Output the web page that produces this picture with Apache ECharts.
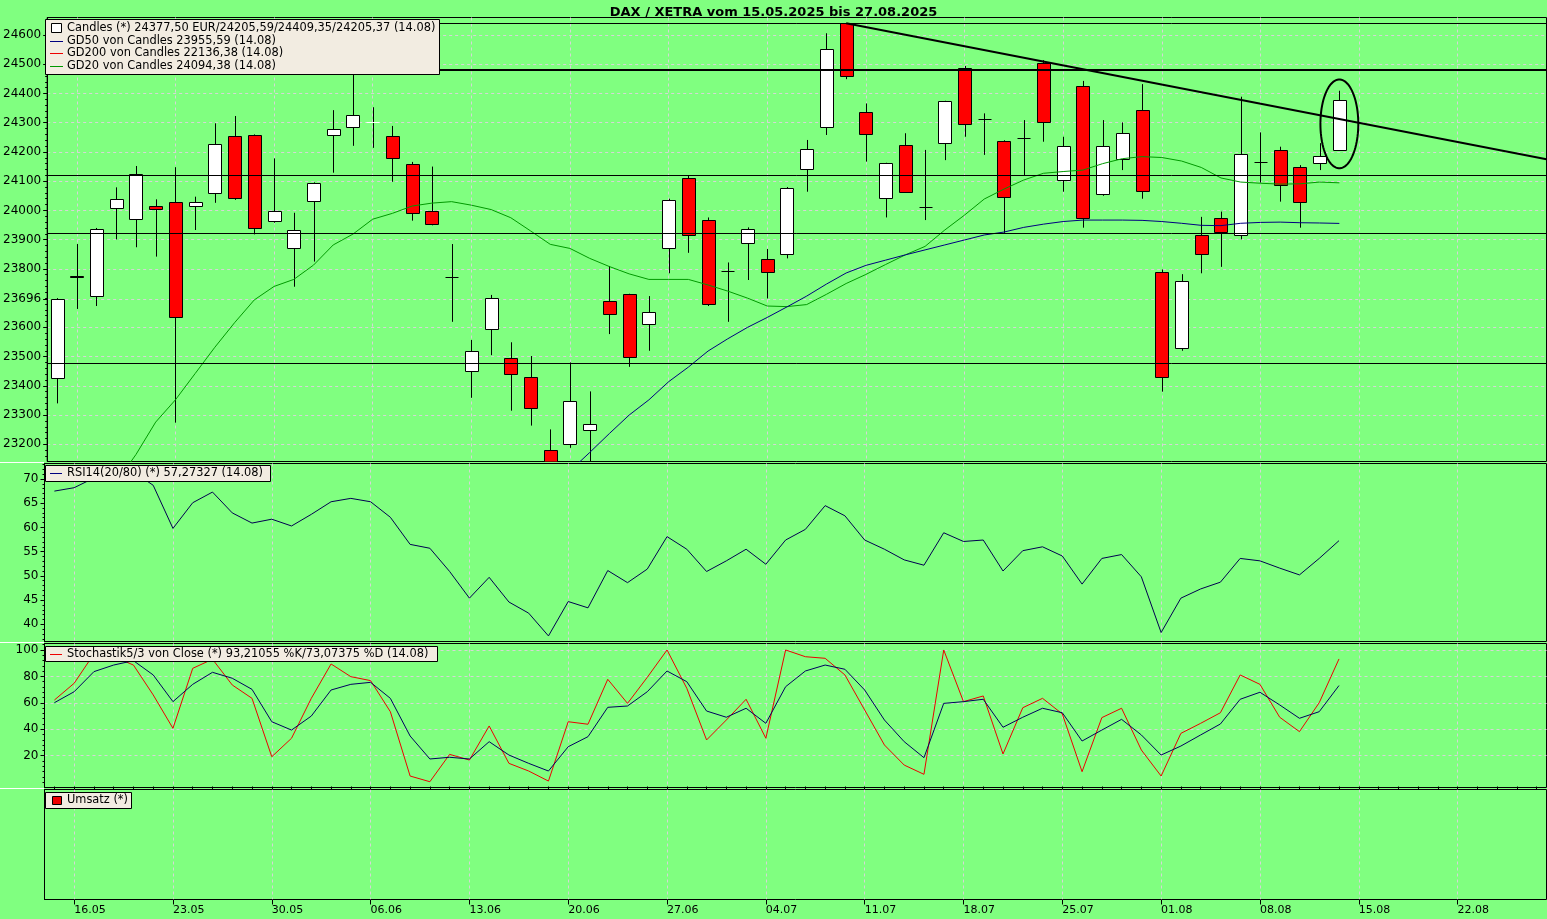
<!DOCTYPE html>
<html><head><meta charset="utf-8">
<script src="https://cdn.jsdelivr.net/npm/echarts@6/dist/echarts.min.js"></script>
<style>html,body{margin:0;padding:0;background:#80ff80;}#c{width:1547px;height:919px;}</style>
</head><body><div id="c"></div>
<script>
// ---------- DATA ----------
const dates = ['15.05','16.05','19.05','20.05','21.05','22.05','23.05','26.05','27.05','28.05','29.05','30.05',
'02.06','03.06','04.06','05.06','06.06','09.06','10.06','11.06','12.06','13.06','16.06','17.06','18.06','19.06','20.06','23.06','24.06','25.06','26.06','27.06','30.06',
'01.07','02.07','03.07','04.07','07.07','08.07','09.07','10.07','11.07','14.07','15.07','16.07','17.07','18.07','21.07','22.07','23.07','24.07','25.07','28.07','29.07','30.07','31.07',
'01.08','04.08','05.08','06.08','07.08','08.08','11.08','12.08','13.08','14.08',
'15.08','18.08','19.08','20.08','21.08','22.08','25.08','26.08','27.08','28.08'];
const tickLabels = ['16.05','23.05','30.05','06.06','13.06','20.06','27.06','04.07','11.07','18.07','25.07','01.08','08.08','15.08','22.08'];

const open  = [23426,23777,23708,24007,23970,24016,24028,24014,24058,24253,24257,23965,23870,24033,24257,24284,24303,24253,24158,23997,23771,23452,23593,23494,23429,23180,23200,23248,23690,23713,23612,23870,24110,23967,23793,23887,23833,23850,24141,24284,24640,24336,24041,24223,24013,24232,24486,24314,24236,24247,24505,24103,24426,24055,24175,24343,23788,23528,23916,23973,23916,24167,24207,24147,24161,24205.59];
const close = [23696,23771,23935,24038,24123,24004,23634,24028,24226,24041,23939,23998,23933,24094,24278,24325,24305,24178,23990,23952,23771,23519,23699,23439,23323,23057,23349,23268,23645,23500,23651,24036,23916,23680,23793,23935,23790,24076,24209,24551,24461,24260,24161,24064,24013,24373,24295,24314,24045,24247,24301,24220,23973,24220,24264,24067,23429,23759,23850,23927,24192,24167,24087,24028,24186,24377.50];
const low   = [23340,23663,23673,23901,23874,23842,23274,23933,24026,24036,23918,23958,23739,23825,24129,24221,24214,24098,23965,23949,23619,23359,23505,23315,23264,23020,23188,23090,23577,23465,23520,23785,23855,23673,23619,23762,23699,23836,24064,24258,24449,24167,23976,24061,23967,24172,24252,24190,23923,24121,24235,24064,23941,24050,24138,24040,23380,23520,23785,23807,23901,24095,24030,23941,24138,24205.37];
const high  = [23700,23885,23940,24079,24152,24038,24148,24047,24298,24323,24260,24178,23992,24096,24343,24480,24353,24289,24166,24150,23885,23557,23711,23549,23502,23251,23480,23381,23810,23715,23707,24040,24119,23976,23822,23942,23868,24080,24241,24606,24641,24366,24163,24264,24207,24375,24494,24332,24240,24309,24514,24252,24443,24309,24301,24432,23798,23782,23978,23996,24389,24267,24218,24155,24230,24409.35];

const gd20 = [22900,22960,23010,23070,23165,23276,23352,23442,23532,23616,23694,23740,23764,23813,23882,23919,23970,23990,24015,24025,24030,24018,24003,23975,23930,23884,23870,23836,23808,23783,23764,23764,23764,23745,23724,23700,23673,23671,23678,23713,23750,23781,23815,23848,23877,23933,23984,24039,24073,24104,24127,24133,24138,24160,24177,24184,24181,24169,24147,24111,24097,24093,24090,24091,24097,24094.38];
const gd50 = [null,null,null,null,null,null,null,null,null,null,null,null,null,null,null,null,null,null,null,null,null,null,null,null,null,23046,23109,23172,23237,23300,23352,23414,23464,23519,23561,23600,23634,23670,23707,23748,23786,23812,23830,23848,23865,23882,23899,23916,23926,23942,23953,23962,23967,23967,23967,23966,23962,23956,23949,23948,23956,23959,23960,23958,23957,23955.59];

const rsi = [67.5,68.2,70.2,72.0,71.5,68.7,59.8,65.1,67.3,63.0,60.9,61.7,60.3,62.7,65.3,66.0,65.3,62.1,56.5,55.7,50.9,45.4,49.7,44.6,42.3,37.6,44.7,43.4,51.1,48.6,51.4,58.1,55.5,50.9,53.1,55.5,52.4,57.4,59.6,64.5,62.4,57.4,55.5,53.3,52.2,58.9,57.1,57.4,51.0,55.2,56.0,54.1,48.3,53.6,54.4,49.8,38.3,45.4,47.3,48.7,53.6,53.1,51.6,50.2,53.6,57.27];
const stochK = [62.1,74.8,97,95,88.6,66,40.7,86.1,93,73.5,63.4,19.2,33.2,63.4,89.4,79.8,76.8,53.3,4.6,0.3,21.0,16.7,42.5,14.2,8.4,0.8,45.7,43.8,77.8,59.6,79.3,100,71.0,31.9,47.0,62.7,33.2,100,94.9,93.7,81.1,54.6,28.1,12.9,5.9,100,60.9,65.2,21.3,56.3,63.4,51.6,7.9,48.8,55.9,24.3,4.6,36.9,44.5,52.5,81.1,74.0,49.1,38.2,60.1,93.21];
const stochD = [60.1,68.4,83.6,88.6,91.9,81.1,60.9,74.0,83.1,78.6,70.2,45.7,39.4,50.0,69.7,74.0,75.5,63.4,34.9,17.5,18.8,17.5,30.6,20.5,14.2,8.4,26.8,34.4,56.6,57.6,68.4,84.1,76.0,53.8,49.1,55.9,44.5,72.2,84.1,88.6,85.4,69.7,47.0,30.6,18.5,59.6,60.9,62.7,41.5,49.1,55.9,52.5,31.1,39.4,47.5,35.7,20.5,27.3,35.7,44.0,62.7,68.0,58.4,48.3,53.3,73.07];

const priceTicks = [23200,23300,23400,23500,23600,23696,23800,23900,24000,24100,24200,24300,24400,24500,24600];
const rsiTicks = [40,45,50,55,60,65,70];
const stochTicks = [20,40,60,80,100];

const hLevels = [24640,24480,24121,23922,23477];
const trendStart = [40,24640];
const trendEnd = [75.5,24175];
const ellipseMark = [65,24296,0.96,152];

const titleText = 'DAX / XETRA vom 15.05.2025 bis 27.08.2025';
const legendMain = ['Candles (*) 24377,50 EUR/24205,59/24409,35/24205,37 (14.08)','GD50 von Candles 23955,59 (14.08)','GD200 von Candles 22136,38 (14.08)','GD20 von Candles 24094,38 (14.08)'];
const legendRsi = 'RSI14(20/80) (*) 57,27327 (14.08)';
const legendStoch = 'Stochastik5/3 von Close (*) 93,21055 %K/73,07375 %D (14.08)';
const legendVol = 'Umsatz (*)';

// ---------- CHART ----------
const FONT = 'DejaVu Sans';
const fridayIdx = tickLabels.map(t => dates.indexOf(t));
const allIdx = dates.map((d,i)=>i);
const range = (a,b,s)=>{const r=[];for(let v=a;v<=b+1e-9;v+=s)r.push(+v.toFixed(4));return r;};
const dash = {color:'#d6d6d6', type:[3,3], width:1};

const grids = [
  {left:44.5, width:1502, top:17.5, height:444},
  {left:44.5, width:1502, top:463.5, height:178},
  {left:44.5, width:1502, top:643.5, height:144},
  {left:44.5, width:1502, top:789.5, height:110}
].map(g => Object.assign(g, {show:true, borderColor:'#000', borderWidth:1, backgroundColor:'transparent', containLabel:false}));

function xAx(gi, bottom){
  return {type:'value', gridIndex:gi, min:-0.5, max:75.5,
    axisLine:{show:false, onZero:false},
    axisTick:{show:bottom, customValues:fridayIdx, length:5, lineStyle:{color:'#000'}},
    axisLabel:{show:bottom, customValues:fridayIdx, formatter:v=>dates[Math.round(v)], align:'left', margin:5, color:'#000', fontSize:11, fontFamily:FONT},
    splitLine:{show:true, lineStyle:dash}};
}
const xAxes = [xAx(0,false), xAx(1,false), xAx(2,false), xAx(3,true),
  {type:'value', gridIndex:3, min:-0.5, max:75.5, axisLine:{show:false, onZero:false}, axisTick:{show:true, customValues:allIdx, length:3, lineStyle:{color:'#000'}}, axisLabel:{show:false}, splitLine:{show:false}}];

function yAx(gi, min, max, ticks, split){
  return {type:'value', gridIndex:gi, min:min, max:max, position:'left',
    axisLine:{show:true, onZero:false, lineStyle:{color:'#000'}},
    axisTick:{show:!!ticks, customValues:ticks||[], length:4, lineStyle:{color:'#000'}},
    axisLabel:{show:!!ticks, customValues:ticks||[], formatter:v=>String(v), margin:6, color:'#000', fontSize:12, fontFamily:FONT},
    splitLine:{show:split, lineStyle:dash}};
}
function yMinor(gi, min, max, vals){
  return {type:'value', gridIndex:gi, min:min, max:max, position:'left', axisLine:{show:false, onZero:false},
    axisTick:{show:true, customValues:vals, length:2, lineStyle:{color:'#000'}}, axisLabel:{show:false}, splitLine:{show:false}};
}
const pMin = 23141.2, pMax = 24659.9;
const rMin = 36.45, rMax = 73.2;
const sMin = -4.07, sMax = 104.9;
const yAxes = [
  yAx(0,pMin,pMax,priceTicks,true),
  yAx(1,rMin,rMax,rsiTicks,false),
  yAx(2,sMin,sMax,stochTicks,true),
  yAx(3,0,1,null,false),
  yMinor(0,pMin,pMax,range(23160,24640,20)),
  yMinor(1,rMin,rMax,range(37,73,1)),
  yMinor(2,sMin,sMax,range(0,104,4))
];

const candleData = open.map((o,i)=>[i,o,close[i],low[i],high[i]]);

const candleSeries = {
  type:'custom', xAxisIndex:0, yAxisIndex:0, clip:true, z:3,
  data:candleData, encode:{x:0, y:[1,2,3,4]},
  renderItem(params, api){
    const i=api.value(0), o=api.value(1), c=api.value(2), l=api.value(3), h=api.value(4);
    const pO=api.coord([i,o]), pC=api.coord([i,c]), pL=api.coord([i,l]), pH=api.coord([i,h]);
    const w=Math.round(api.size([1,0])[0]*0.64);
    const cx=Math.round(pO[0])+0.5;
    const left=Math.round(pO[0]-w/2)+0.5;
    const ch=[{type:'line', shape:{x1:cx,y1:pH[1],x2:cx,y2:pL[1]}, style:{stroke:'#000', lineWidth:1}}];
    const top=Math.min(pO[1],pC[1]), bot=Math.max(pO[1],pC[1]);
    if (c===o){
      const y=Math.round(pO[1])+0.5;
      ch.push({type:'line', shape:{x1:left,y1:y,x2:left+w,y2:y}, style:{stroke:'#000', lineWidth:1}});
    } else if (bot-top<1){
      const y=Math.round(pO[1])+0.5;
      ch.push({type:'line', shape:{x1:left,y1:y,x2:left+w,y2:y}, style:{stroke:c>o?'#fff':'#f00', lineWidth:1}});
    } else {
      const t=Math.round(top)+0.5, b=Math.round(bot)+0.5;
      ch.push({type:'rect', shape:{x:left,y:t,width:w,height:Math.max(1,b-t)}, style:{fill:c>o?'#ffffff':'#ff0000', stroke:'#000', lineWidth:1}});
    }
    return {type:'group', children:ch};
  }
};

const ellipseSeries = {
  type:'custom', xAxisIndex:0, yAxisIndex:0, clip:true, z:6, silent:true,
  data:[ellipseMark], encode:{x:0,y:1},
  renderItem(params, api){
    const c=api.coord([api.value(0),api.value(1)]);
    const rx=api.size([api.value(2),0])[0];
    const ry=api.size([0,api.value(3)])[1];
    const pts=[];
    for(let k=0;k<90;k++){const a=k/90*Math.PI*2; pts.push([c[0]+rx*Math.cos(a), c[1]+ry*Math.sin(a)]);}
    return {type:'polygon', shape:{points:pts}, style:{fill:'none', stroke:'#000', lineWidth:2}};
  }
};

const lineS = (data, xi, yi, color, extra) => Object.assign({
  type:'line', xAxisIndex:xi, yAxisIndex:yi, data:data.map((v,i)=>[i,v]), symbol:'none', showSymbol:false,
  lineStyle:{color:color, width:1}, itemStyle:{color:color}, clip:true, animation:false, silent:true, z:4
}, extra||{});

const mlData = hLevels.map((v,k)=>({yAxis:v, lineStyle:{width:k===1?2:1}}));
mlData.push([{coord:trendStart},{coord:trendEnd, lineStyle:{width:2}}]);

const option = {
  animation:false,
  backgroundColor:'#80ff80',
  title:{text:titleText, left:'center', top:1, textStyle:{fontSize:13, fontWeight:'bold', fontFamily:FONT, color:'#000'}},
  grid:grids, xAxis:xAxes, yAxis:yAxes,
  series:[
    candleSeries,
    lineS(gd20,0,0,'#009900',{markLine:{silent:true, symbol:['none','none'], label:{show:false}, animation:false,
      lineStyle:{color:'#000', type:'solid', width:1}, data:mlData}}),
    lineS(gd50,0,0,'#000080'),
    ellipseSeries,
    lineS(rsi,1,1,'#000050'),
    lineS(stochK,2,2,'#ee0000'),
    lineS(stochD,2,2,'#000060')
  ],
  graphic:[
    {type:'line', shape:{x1:0,y1:462.5,x2:44,y2:462.5}, style:{stroke:'#fff', lineWidth:1}, z:50},
    {type:'line', shape:{x1:0,y1:642.5,x2:44,y2:642.5}, style:{stroke:'#fff', lineWidth:1}, z:50},
    {type:'line', shape:{x1:0,y1:788.5,x2:44,y2:788.5}, style:{stroke:'#fff', lineWidth:1}, z:50},
    // main legend
    {type:'rect', shape:{x:45.5,y:19.5,width:394,height:55}, style:{fill:'#f2ece1', stroke:'#000', lineWidth:1}, z:100},
    {type:'rect', shape:{x:51.5,y:23.5,width:10,height:9}, style:{fill:'#fff', stroke:'#000', lineWidth:1}, z:101},
    {type:'line', shape:{x1:50,y1:41.5,x2:63,y2:41.5}, style:{stroke:'#000080', lineWidth:1}, z:101},
    {type:'line', shape:{x1:50,y1:53.5,x2:63,y2:53.5}, style:{stroke:'#ee0000', lineWidth:1}, z:101},
    {type:'line', shape:{x1:50,y1:66.5,x2:63,y2:66.5}, style:{stroke:'#009900', lineWidth:1}, z:101},
    ...legendMain.map((t,k)=>({type:'text', x:67, y:[28.5,41.5,53.5,66.5][k], style:{text:t, fill:'#000', font:'11.4px "'+FONT+'"', textVerticalAlign:'middle'}, z:101})),
    // RSI legend
    {type:'rect', shape:{x:45.5,y:465.5,width:225,height:16}, style:{fill:'#f2ece1', stroke:'#000', lineWidth:1}, z:100},
    {type:'line', shape:{x1:50,y1:473.5,x2:62,y2:473.5}, style:{stroke:'#000080', lineWidth:1}, z:101},
    {type:'text', x:67, y:473.5, style:{text:legendRsi, fill:'#000', font:'11.4px "'+FONT+'"', textVerticalAlign:'middle'}, z:101},
    // Stoch legend
    {type:'rect', shape:{x:45.5,y:646.5,width:392,height:15}, style:{fill:'#f2ece1', stroke:'#000', lineWidth:1}, z:100},
    {type:'line', shape:{x1:50,y1:654.5,x2:62,y2:654.5}, style:{stroke:'#ee0000', lineWidth:1}, z:101},
    {type:'text', x:67, y:654.5, style:{text:legendStoch, fill:'#000', font:'11.4px "'+FONT+'"', textVerticalAlign:'middle'}, z:101},
    // Umsatz legend
    {type:'rect', shape:{x:45.5,y:792.5,width:86,height:16}, style:{fill:'#f2ece1', stroke:'#000', lineWidth:1}, z:100},
    {type:'rect', shape:{x:52.5,y:796.5,width:9,height:8}, style:{fill:'#ee0000', stroke:'#000', lineWidth:1}, z:101},
    {type:'text', x:67, y:800.5, style:{text:legendVol, fill:'#000', font:'11.4px "'+FONT+'"', textVerticalAlign:'middle'}, z:101}
  ]
};

const chart = echarts.init(document.getElementById('c'), null, {renderer:'canvas', width:1547, height:919});
chart.setOption(option);
</script>
</body></html>
